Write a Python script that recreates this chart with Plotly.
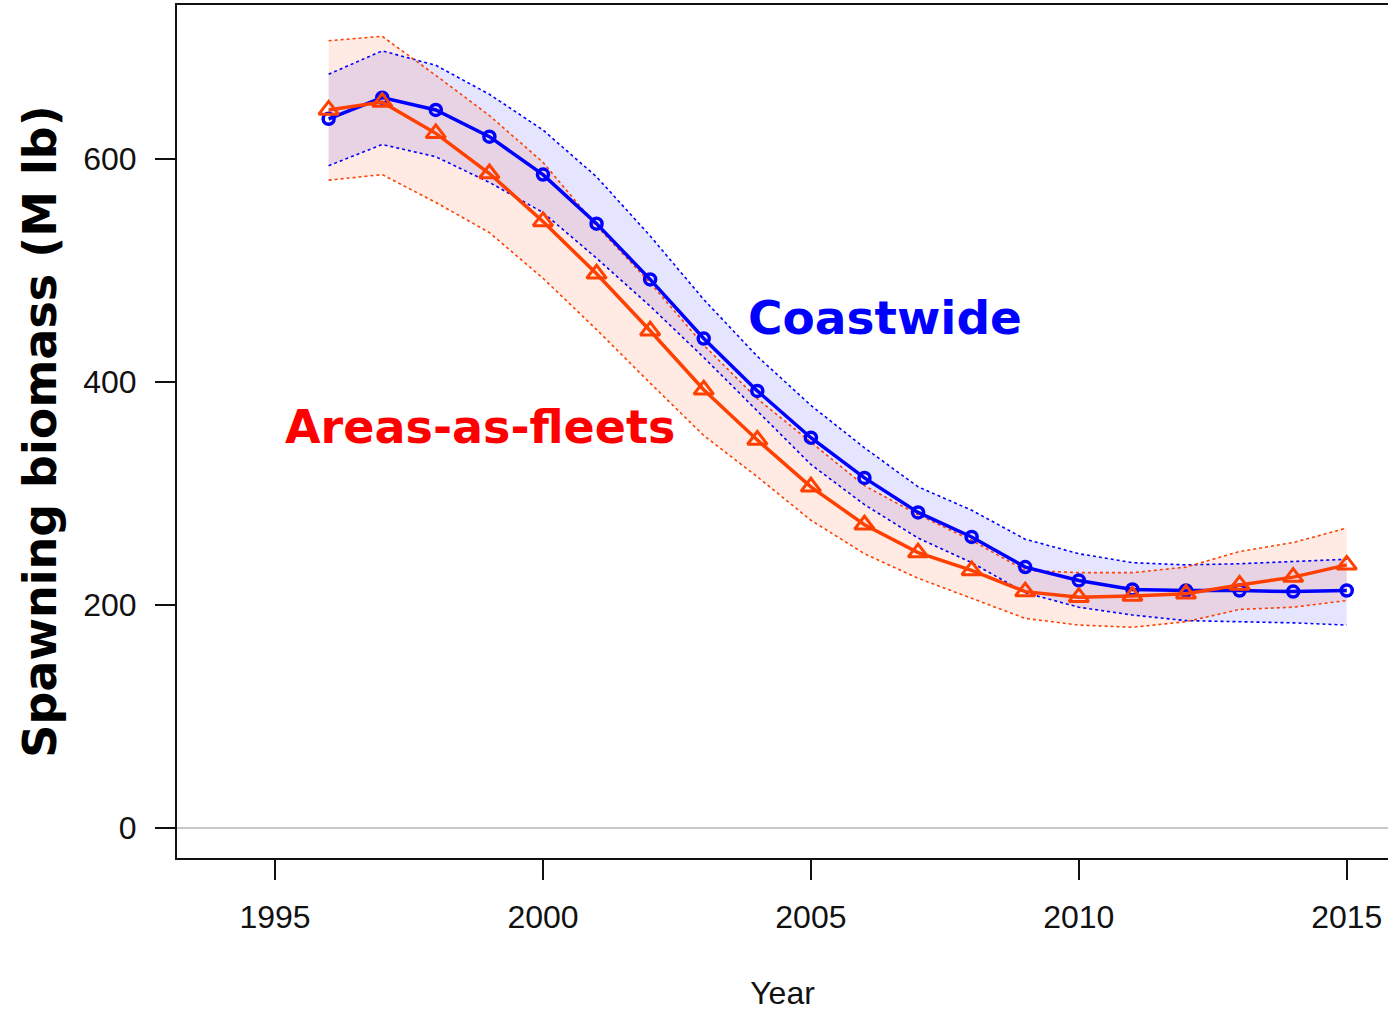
import plotly.graph_objects as go

years = list(range(1996, 2016))

# Coastwide model (blue)
coast_mid = [636, 655, 644, 620, 586, 542, 492, 439, 392, 350, 314, 283, 261, 234, 222, 214, 213, 213, 212, 213]
coast_hi = [676, 697, 684, 658, 626, 584, 531, 474, 423, 379, 341, 306, 285, 259, 246, 238, 236, 237, 239, 241]
coast_lo = [594, 613, 602, 579, 552, 511, 468, 422, 374, 326, 290, 260, 238, 211, 198, 191, 186, 185, 184, 182]

# Areas-as-fleets model (red)
aaf_mid = [644, 651, 623, 587, 544, 497, 446, 393, 348, 306, 272, 247, 231, 212, 207, 208, 210, 218, 225, 236]
aaf_hi = [706, 710, 675, 639, 597, 540, 489, 433, 385, 346, 307, 281, 258, 231, 229, 229, 234, 248, 256, 269]
aaf_lo = [581, 586, 561, 534, 493, 447, 399, 352, 315, 276, 246, 224, 206, 188, 182, 180, 185, 196, 198, 204]

x_ticks = [1995, 2000, 2005, 2010, 2015]
y_ticks = [0, 200, 400, 600]

BLUE = "#0000FF"
RED = "#FF4000"

fig = go.Figure()

# confidence bands (filled polygons)
fig.add_trace(go.Scatter(
    x=years + years[::-1], y=coast_hi + coast_lo[::-1],
    fill="toself", fillcolor="rgba(0,0,255,0.10)",
    line=dict(width=0), mode="lines", hoverinfo="skip", showlegend=False))
fig.add_trace(go.Scatter(
    x=years + years[::-1], y=aaf_hi + aaf_lo[::-1],
    fill="toself", fillcolor="rgba(255,69,0,0.11)",
    line=dict(width=0), mode="lines", hoverinfo="skip", showlegend=False))

# dotted band edges
for ys in (coast_hi, coast_lo):
    fig.add_trace(go.Scatter(x=years, y=ys, mode="lines",
                             line=dict(color=BLUE, width=1.6, dash="3px,3px"),
                             showlegend=False, hoverinfo="skip"))
for ys in (aaf_hi, aaf_lo):
    fig.add_trace(go.Scatter(x=years, y=ys, mode="lines",
                             line=dict(color=RED, width=1.6, dash="3px,3px"),
                             showlegend=False, hoverinfo="skip"))

# central estimates
fig.add_trace(go.Scatter(
    x=years, y=coast_mid, mode="lines+markers", name="Coastwide",
    line=dict(color=BLUE, width=3.5),
    marker=dict(symbol="circle-open", size=11, color=BLUE, line=dict(width=3.5, color=BLUE)),
    showlegend=False))
fig.add_trace(go.Scatter(
    x=years, y=aaf_mid, mode="lines+markers", name="Areas-as-fleets",
    line=dict(color=RED, width=3.5),
    marker=dict(symbol="triangle-up-open", size=17, color=RED, line=dict(width=3, color=RED)),
    showlegend=False))

fig.add_annotation(x=2006.38, y=458, text="<b>Coastwide</b>", showarrow=False,
                   font=dict(family="DejaVu Sans", size=47, color=BLUE))
fig.add_annotation(x=1998.82, y=360, text="<b>Areas-as-fleets</b>", showarrow=False,
                   font=dict(family="DejaVu Sans", size=46, color="#FF0000"))

fig.update_layout(
    width=1388, height=1011,
    margin=dict(l=177, r=0, t=5, b=153),
    paper_bgcolor="white", plot_bgcolor="white",
    showlegend=False,
    font=dict(family="Liberation Sans, Arial, sans-serif", color="#111111"),
    xaxis=dict(
        range=[1993.17, 2015.77], tickvals=x_ticks, ticktext=[str(v) for v in x_ticks],
        showgrid=False, zeroline=False,
        showline=True, linecolor="#111111", linewidth=2, mirror=True,
        ticks="outside", ticklen=20, tickwidth=2, tickcolor="#111111",
        tickfont=dict(size=32, color="#111111"), ticklabelstandoff=10,
        title=dict(text="Year", font=dict(size=32, color="#111111"), standoff=50),
    ),
    yaxis=dict(
        range=[-26.9, 738.1], tickvals=y_ticks, ticktext=[str(v) for v in y_ticks],
        showgrid=False, zeroline=True, zerolinecolor="#c8c8c8", zerolinewidth=1.5,
        showline=True, linecolor="#111111", linewidth=2, mirror=False,
        ticks="outside", ticklen=20, tickwidth=2, tickcolor="#111111",
        tickfont=dict(size=32, color="#111111"), ticklabelstandoff=12,
        title=dict(text="<b>Spawning biomass (M lb)</b>",
                   font=dict(family="DejaVu Sans", size=46, color="#000000"), standoff=12),
    ),
)

fig.write_html("out.html")
